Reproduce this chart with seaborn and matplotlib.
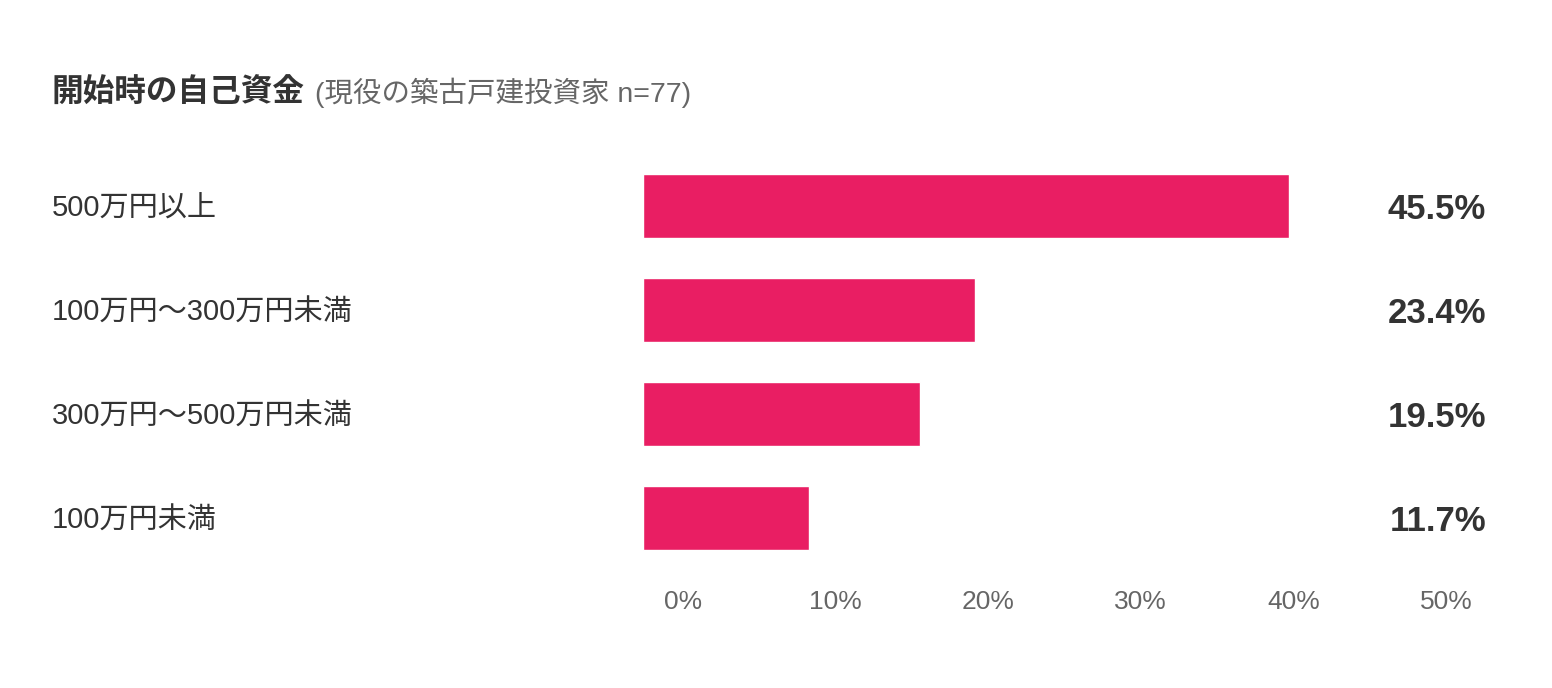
import matplotlib
matplotlib.use('Agg')
import matplotlib.pyplot as plt
import matplotlib.transforms as mtransforms
import seaborn as sns
import numpy as np
import pandas as pd

title = '開始時の自己資金'
subtitle = '(現役の築古戸建投資家 n=77)'
categories = ['500万円以上', '100万円〜300万円未満', '300万円〜500万円未満', '100万円未満']
shares = [45.5, 23.4, 19.5, 11.7]
tick_labels = ['0%', '10%', '20%', '30%', '40%', '50%']

sns.set_theme(style='white')
# Helvetica-like digits, CJK glyphs from Noto
plt.rcParams['font.family'] = ['Liberation Sans', 'Noto Sans CJK JP', 'DejaVu Sans']

W, H = 1552, 688
fig = plt.figure(figsize=(W / 100, H / 100), dpi=100)

# plot area in pixels: bars start at 643, value labels end at 1486
left, right, top, bottom = 643, 1486, 154, 570
ax = fig.add_axes([left / W, 1 - bottom / H, (right - left) / W, (bottom - top) / H])

df = pd.DataFrame({'category': categories, 'share': shares})
sns.barplot(data=df, x='share', y='category', color='#E91E63', saturation=1,
            width=0.615, ax=ax)

px_per_pct = 14.2
xmax = (right - left) / px_per_pct
ax.set_xlim(0, xmax)
ax.set_ylim(len(categories) - 0.5, -0.5)

# tick labels are spread edge to edge across the plot area (not on the data scale)
slot = 80 / (right - left)
tick_pos = np.linspace(slot / 2, 1 - slot / 2, len(tick_labels)) * xmax
ax.set_xticks(tick_pos, tick_labels)
ax.tick_params(axis='x', length=0, pad=14.5, labelsize=19, labelcolor='#666666')

ax.tick_params(axis='y', length=0, pad=(left - 52) * 0.72, labelsize=21, labelcolor='#333333')
for lab in ax.get_yticklabels():
    lab.set_horizontalalignment('left')
    lab.set_verticalalignment('center_baseline')

trans = mtransforms.blended_transform_factory(ax.transAxes, ax.transData)
for i, v in enumerate(shares):
    ax.text(1.0, i, f'{v}%', transform=trans, ha='right', va='center_baseline',
            fontsize=25, fontweight='bold', color='#333333')

ax.set_xlabel('')
ax.set_ylabel('')
sns.despine(ax=ax, left=True, bottom=True)

t = fig.text(52 / W, 1 - 102 / H, title, fontsize=22.8, fontweight='bold',
             color='#333333', va='baseline')
fig.canvas.draw()
bb = t.get_window_extent()
fig.text((bb.x1 + 10) / W, 1 - 102 / H, subtitle, fontsize=20.5,
         color='#666666', va='baseline')

fig.savefig('out.png', dpi=100, facecolor='white')
